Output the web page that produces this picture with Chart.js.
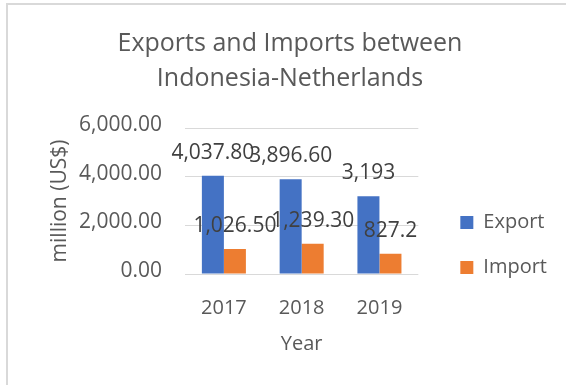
<!DOCTYPE html>
<html lang="en">
<head>
<meta charset="UTF-8">
<title>Exports and Imports between Indonesia-Netherlands</title>
<script src="https://cdn.jsdelivr.net/npm/chart.js"></script>
<style>
    html, body { margin: 0; padding: 0; background: #fff; overflow: hidden; }
    /* light frame around the chart, only left and top edges fall inside the page */
    #frame {
        position: absolute; left: 6px; top: 3px; width: 620px; height: 440px;
        border-left: 2px solid #d9d9d9; border-top: 2px solid #d9d9d9;
    }
    #chart { position: absolute; left: 0; top: 0; }
</style>
</head>
<body>
<div id="frame"></div>
<canvas id="chart" width="566" height="385"></canvas>
<script>
    var years = ['2017', '2018', '2019'];
    var exportValues = [4037.8, 3896.6, 3193];
    var importValues = [1026.5, 1239.3, 827.2];
    // text written above each bar
    var exportLabels = ['4,037.80', '3,896.60', '3,193'];
    var importLabels = ['1,026.50', '1,239.30', '827.2'];
    var yTicks = [0, 2000, 4000, 6000];

    Chart.defaults.font.family = "'Open Sans', sans-serif";
    Chart.defaults.font.size = 20;
    Chart.defaults.color = '#595959';

    // value labels sitting just above the bars
    var barValueLabels = {
        id: 'barValueLabels',
        afterDatasetsDraw: function (chart) {
            var ctx = chart.ctx;
            ctx.save();
            ctx.font = "21px 'Open Sans', sans-serif";
            ctx.fillStyle = '#404040';
            ctx.textAlign = 'center';
            ctx.textBaseline = 'alphabetic';
            chart.data.datasets.forEach(function (ds, i) {
                chart.getDatasetMeta(i).data.forEach(function (bar, j) {
                    ctx.fillText(ds.valueLabels[j], bar.x, bar.y - 17);
                });
            });
            ctx.restore();
        }
    };

    new Chart(document.getElementById('chart'), {
        type: 'bar',
        data: {
            labels: years,
            datasets: [
                { label: 'Export', data: exportValues, valueLabels: exportLabels, backgroundColor: '#4472c4', borderWidth: 0 },
                { label: 'Import', data: importValues, valueLabels: importLabels, backgroundColor: '#ed7d31', borderWidth: 0 }
            ]
        },
        options: {
            responsive: false,
            animation: false,
            categoryPercentage: 0.566,
            barPercentage: 1,
            layout: { padding: { left: 23, right: 9, top: 0, bottom: 0 } },
            plugins: {
                title: {
                    display: true,
                    text: ['Exports and Imports between', 'Indonesia-Netherlands'],
                    font: { size: 25, weight: 'normal', lineHeight: 35 / 25 },
                    color: '#595959',
                    padding: { top: 26, bottom: 32 }
                },
                legend: {
                    position: 'right',
                    maxWidth: 140,
                    // blank title only pushes the two entries down beside the bars
                    title: { display: true, text: '', font: { size: 20 }, padding: { top: 0, bottom: 81 } },
                    labels: { boxWidth: 13, boxHeight: 13, padding: 25, color: '#595959', font: { size: 20 } }
                },
                tooltip: { enabled: false }
            },
            scales: {
                x: {
                    grid: { display: false },
                    border: { display: false },
                    ticks: { padding: 14.5 },
                    title: { display: true, text: 'Year', padding: { top: 12.7, bottom: 28.8 } },
                    afterFit: function (s) { s.height = 111; }
                },
                y: {
                    min: 0,
                    max: 6000,
                    afterBuildTicks: function (s) {
                        s.ticks = yTicks.map(function (v) { return { value: v }; });
                    },
                    ticks: {
                        padding: 23,
                        labelOffset: -3,
                        font: { size: 21 },
                        callback: function (v) {
                            return v.toLocaleString('en-US', { minimumFractionDigits: 2, maximumFractionDigits: 2 });
                        }
                    },
                    grid: { color: '#d9d9d9', drawTicks: false },
                    border: { display: false },
                    title: { display: true, text: 'million (US$)', font: { size: 21 }, padding: { top: 24, bottom: 4 } },
                    afterFit: function (s) { s.width = 162; }
                },
                // empty strip between plot and legend
                edge: {
                    type: 'linear',
                    axis: 'y',
                    position: 'right',
                    grid: { display: false },
                    border: { display: false },
                    ticks: { display: false },
                    afterFit: function (s) { s.width = 17; }
                }
            }
        },
        plugins: [barValueLabels]
    });
</script>
</body>
</html>
